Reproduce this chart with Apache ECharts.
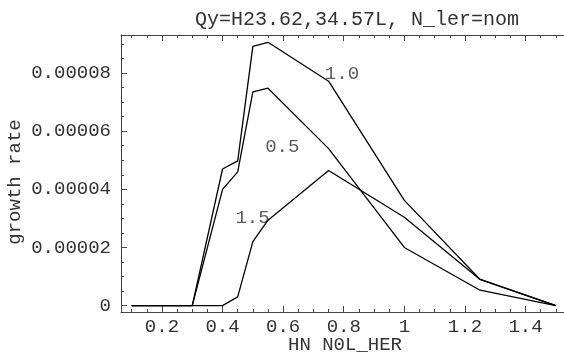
<!DOCTYPE html>
<html>
<head>
<meta charset="utf-8">
<script src="https://cdn.jsdelivr.net/npm/echarts@6/dist/echarts.min.js"></script>
<style>html,body{margin:0;padding:0;background:#fff}#c{width:564px;height:356px}</style>
</head>
<body>
<div id="c"></div>
<script>
var xValues = [0.1, 0.2, 0.3, 0.4, 0.45, 0.5, 0.55, 0.75, 1.0, 1.25, 1.5];
var series05 = [0, 0, 0, 4.0e-5, 4.6e-5, 7.35e-5, 7.48e-5, 5.4e-5, 2.0e-5, 5.3e-6, 0];
var series10 = [0, 0, 0, 4.7e-5, 4.98e-5, 8.92e-5, 9.06e-5, 7.72e-5, 3.62e-5, 9.0e-6, 0];
var series15 = [0, 0, 0, 0, 3.0e-6, 2.2e-5, 2.94e-5, 4.65e-5, 3.04e-5, 9.0e-6, 0];
var curveNames = ['0.5', '1.0', '1.5'];
var labelPositions = [[0.597, 5.47e-5], [0.794, 7.98e-5], [0.499, 3.01e-5]];
var xMajorTicks = [0.2, 0.4, 0.6, 0.8, 1.0, 1.2, 1.4];
var xMinorTicks = [0.1, 0.15, 0.25, 0.3, 0.35, 0.45, 0.5, 0.55, 0.65, 0.7, 0.75, 0.85, 0.9, 0.95, 1.05, 1.1, 1.15, 1.25, 1.3, 1.35, 1.45, 1.5];
var yMajorTicks = [0, 2e-5, 4e-5, 6e-5, 8e-5];
var yMinorTicks = [5e-6, 1e-5, 1.5e-5, 2.5e-5, 3e-5, 3.5e-5, 4.5e-5, 5e-5, 5.5e-5, 6.5e-5, 7e-5, 7.5e-5, 8.5e-5, 9e-5];
var titleText = 'Qy=H23.62,34.57L, N_ler=nom';
var xName = 'HN N0L_HER';
var yName = 'growth rate';

var FONT = 'Liberation Mono';
var FS = 19;
var TXT = '#333';
var LINE = '#444';
var xMin = 0.0648, xMax = 1.527, yMin = -2.2e-6, yMax = 9.31e-5;

function pairs(vals) { return xValues.map(function (x, i) { return [x, vals[i]]; }); }
function xFmt(v) { return Math.abs(v - 1) < 1e-9 ? '1' : v.toFixed(1); }
function yFmt(v) { return v === 0 ? '0' : v.toFixed(5); }

function xAxisDef(pos, major, showLine, showLabel) {
  return {
    type: 'value', position: pos, min: xMin, max: xMax,
    splitLine: { show: false },
    axisLine: { show: showLine, onZero: false, lineStyle: { color: LINE, width: 1 } },
    axisTick: { show: true, inside: true, length: major ? 6 : 3, customValues: major ? xMajorTicks : xMinorTicks, lineStyle: { color: LINE } },
    axisLabel: { show: showLabel, customValues: xMajorTicks, formatter: xFmt, fontFamily: FONT, fontSize: FS, color: TXT, margin: 5 }
  };
}
function yAxisDef(pos, major, showLine, showLabel) {
  return {
    type: 'value', position: pos, min: yMin, max: yMax,
    splitLine: { show: false },
    axisLine: { show: showLine, onZero: false, lineStyle: { color: LINE, width: 1 } },
    axisTick: { show: true, inside: true, length: major ? 6 : 3, customValues: major ? yMajorTicks : yMinorTicks, lineStyle: { color: LINE } },
    axisLabel: { show: showLabel, customValues: yMajorTicks, formatter: yFmt, fontFamily: FONT, fontSize: FS, color: TXT, margin: 10 }
  };
}

var chart = echarts.init(document.getElementById('c'), null, { renderer: 'canvas' });
var lineStyle = { color: '#000', width: 1.3 };
var mk = function (name, vals) {
  return { name: name, type: 'line', data: pairs(vals), symbol: 'none', lineStyle: lineStyle, animation: false, silent: true, clip: false };
};
chart.setOption({
  animation: false,
  backgroundColor: '#fff',
  title: { text: titleText, left: 352, top: 5, textAlign: 'center', textStyle: { fontFamily: FONT, fontSize: 20, fontWeight: 'normal', color: TXT } },
  grid: { left: 121, right: -2, top: 35, bottom: 44, containLabel: false },
  xAxis: [xAxisDef('bottom', true, true, true), xAxisDef('bottom', false, false, false), xAxisDef('top', true, true, false), xAxisDef('top', false, false, false)],
  yAxis: [yAxisDef('left', true, true, true), yAxisDef('left', false, false, false)],
  series: [
    mk(curveNames[0], series05),
    mk(curveNames[1], series10),
    mk(curveNames[2], series15),
    {
      type: 'scatter', symbolSize: 0, silent: true, animation: false,
      data: labelPositions.map(function (p, i) { return { value: p, name: curveNames[i] }; }),
      label: { show: true, position: 'inside', formatter: function (p) { return p.name; }, fontFamily: FONT, fontSize: FS, color: TXT }
    }
  ],
  graphic: [
    { type: 'text', x: 345, y: 345, style: { text: xName, fontFamily: FONT, fontSize: FS, fill: TXT, align: 'center', verticalAlign: 'middle' } },
    { type: 'text', x: 15, y: 182, rotation: Math.PI / 2, style: { text: yName, fontFamily: FONT, fontSize: FS, fill: TXT, align: 'center', verticalAlign: 'middle' } }
  ]
});
</script>
</body>
</html>
